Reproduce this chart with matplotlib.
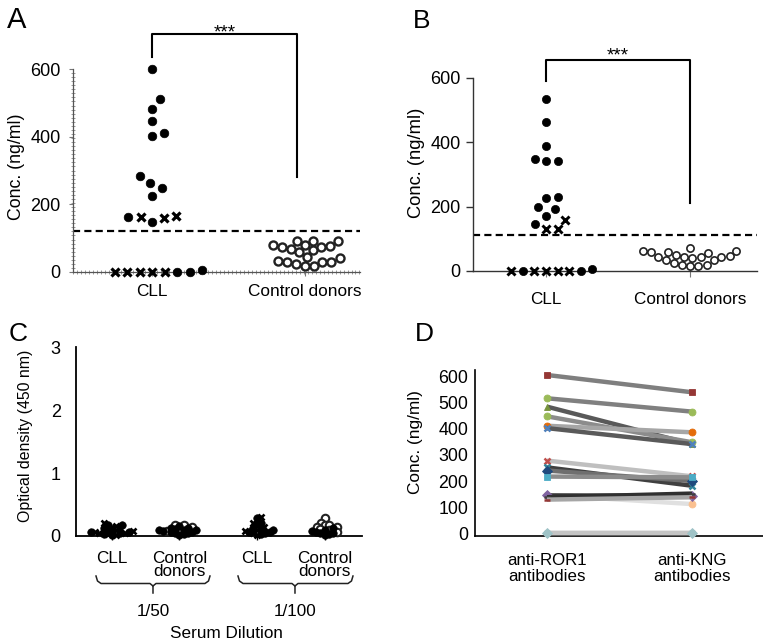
import numpy as np
import matplotlib
matplotlib.use('Agg')
import matplotlib.pyplot as plt
from matplotlib.ticker import FixedLocator

plt.rcParams['font.family'] = ['Liberation Sans', 'DejaVu Sans']

# ---------------- data ----------------
# Panel A
cll_a_vals = [600, 510, 482, 445, 402, 410, 285, 226, 249, 263,
              164, 159, 147, 164, 166, 0, 0, 0, 0, 0, 0, 0, 6]
cll_a_kind = ['o'] * 10 + ['o', 'x', 'o', 'x', 'x'] + ['x'] * 5 + ['o'] * 3
ctrl_a_vals = [80, 77, 73, 93, 93, 93, 65, 58, 67, 75, 81,
               45, 32, 29, 24, 19, 19, 30, 30, 40]
cutoff_a = 121

# Panel B
cll_b_vals = [534, 463, 388, 347, 342, 342, 229, 227, 198, 193, 172, 145,
              159, 131, 131, 0, 0, 0, 0, 0, 0, 0, 5]
cll_b_kind = ['o'] * 12 + ['x'] * 3 + ['x', 'o', 'x', 'x', 'x', 'x', 'o', 'o']
ctrl_b_vals = [63, 60, 55, 50, 73, 46, 44, 43, 45, 40, 35, 34, 25, 20,
               18, 17, 15, 62, 58, 45]
cutoff_b = 112

categories_ab = ['CLL', 'Control donors']

# Panel C
c_labels = ['CLL', 'Control\ndonors', 'CLL', 'Control\ndonors']
c_dilutions = ['1/50', '1/100']
cll50_vals = [0.20, 0.18, 0.17, 0.16, 0.15, 0.13, 0.12, 0.10, 0.09, 0.08,
              0.08, 0.07, 0.06, 0.06, 0.05, 0.05, 0.04, 0.03, 0.03, 0.02, 0.01]
cll50_kind = ['x', 'o', 'o', 'x', 'x', 'o', 'x', 'o', 'x', 'o',
              'x', 'o', 'x', 'o', 'x', 'o', 'x', 'o', 'x', 'o', 'x']
ctrl50_vals = [0.18, 0.17, 0.16, 0.15, 0.13, 0.12, 0.11, 0.10, 0.10, 0.09,
               0.09, 0.08, 0.08, 0.07, 0.06, 0.05, 0.04, 0.03, 0.02]
ctrl50_kind = ['c', 'c', 'o', 'c', 'o', 'o', 'o', 'o', 'c', 'o',
               'o', 'o', 'c', 'o', 'o', 'o', 'o', 'o', 'o']
cll100_vals = [0.30, 0.28, 0.20, 0.20, 0.19, 0.15, 0.12, 0.10, 0.10, 0.09,
               0.08, 0.07, 0.06, 0.05, 0.04, 0.03, 0.02]
cll100_kind = ['x', 'o', 'x', 'o', 'o', 'x', 'o', 'x', 'o', 'o',
               'x', 'o', 'o', 'x', 'o', 'o', 'x']
ctrl100_vals = [0.28, 0.20, 0.18, 0.17, 0.15, 0.14, 0.12, 0.11, 0.10, 0.09,
                0.08, 0.07, 0.06, 0.05, 0.04, 0.03, 0.02]
ctrl100_kind = ['c', 'c', 'c', 'c', 'c', 'c', 'o', 'c', 'o', 'c',
                'o', 'o', 'c', 'o', 'o', 'o', 'o']

# Panel D
d_labels = ['anti-ROR1\nantibodies', 'anti-KNG\nantibodies']
ror1_vals = [605, 516, 484, 447, 411, 402, 278, 252, 240, 217, 146, 145, 138, 129, 0, 0]
kng_vals = [539, 465, 341, 348, 386, 341, 218, 182, 200, 214, 112, 144, 152, 138, 0, 0]
d_line_colors = ['#7f7f7f', '#808080', '#595959', '#8c8c8c', '#a6a6a6', '#5a5a5a',
                 '#bfbfbf', '#404040', '#6f6f6f', '#8c8c8c', '#e0e0e0', '#3a3a3a',
                 '#303030', '#a6a6a6', '#bfbfbf', '#c4c4c4']
d_markers = ['s', 'o', '^', 'o', 'o', 'x', 'x', 'x', 'D', 's', 'o', 'D', '_', '_', 'o', 'D']
d_marker_colors = ['#953735', '#9bbb59', '#77933c', '#9bbb59', '#e46c0a', '#4f81bd',
                   '#c0504d', '#31859c', '#1f497d', '#4bacc6', '#fac090', '#8064a2',
                   '#404040', '#953735', '#93b8bd', '#9fc3c7']

# ---------------- helpers ----------------
W, H = 763, 644
fig = plt.figure(figsize=(W / 100, H / 100), dpi=100)


def add_ax(left, right, top_px, bottom_px):
    return fig.add_axes([left / W, 1 - bottom_px / H, (right - left) / W,
                         (bottom_px - top_px) / H])


def swarm(vals, sx, sy, d):
    vals = np.asarray(vals, float)
    ypx = vals * sy
    order = np.argsort(vals, kind='stable')
    px, py = [], []
    off = np.zeros(len(vals))
    for i in order:
        y = ypx[i]
        iv = []
        for a, b in zip(px, py):
            dy = abs(b - y)
            if dy < d:
                w = np.sqrt(d * d - dy * dy)
                iv.append((a - w, a + w))
        cands = sorted([0.0] + [a for a, b in iv] + [b for a, b in iv],
                       key=lambda c: (abs(c), -c))
        c = 0.0
        for c in cands:
            if all(not (a + 1e-6 < c < b - 1e-6) for a, b in iv):
                break
        off[i] = c
        px.append(c)
        py.append(y)
    rnd = np.round(ypx)
    for r in np.unique(rnd):
        idx = np.where(rnd == r)[0]
        if len(idx) > 1:
            off[idx] = np.sort(off[idx])
    return off / sx


def draw_points(ax, xc, vals, kinds, sx, sy, d, styles):
    off = swarm(vals, sx, sy, d)
    vals = np.asarray(vals, float)
    kinds = list(kinds)
    for k in ['c', 'o', 'x']:
        m = [i for i, kk in enumerate(kinds) if kk == k]
        if m:
            ax.plot(xc + off[m], vals[m], ls='none', clip_on=False, zorder=3, **styles[k])


def style_set(ms_o, ms_x, mew_x, ms_c, mew_c):
    return {
        'o': dict(marker='o', ms=ms_o, mfc='black', mec='black', mew=0.5),
        'x': dict(marker='x', ms=ms_x, mec='black', mew=mew_x),
        'c': dict(marker='o', ms=ms_c, mfc='white', mec='#222222', mew=mew_c),
    }


def letter(x, y, s, size):
    fig.text(x / W, 1 - y / H, s, fontsize=size, va='top', ha='left')


# ---------------- Panel A ----------------
sxA, syA = 153.0, 203.0 / 600
axA = add_ax(73, 360, 272 - 620 * syA, 272)
axA.set_xlim(-(152 - 73) / sxA, 1 + (360 - 305) / sxA)
axA.set_ylim(0, 620)
stA = style_set(6.2, 5.6, 2.3, 5.8, 1.7)
draw_points(axA, 0, cll_a_vals, cll_a_kind, sxA, syA, 12.5, stA)
draw_points(axA, 1, ctrl_a_vals, ['c'] * len(ctrl_a_vals), sxA, syA, 9.0, stA)
axA.axhline(cutoff_a, color='black', lw=1.6, ls=(0, (3.2, 1.9)), zorder=2)
for s in ['top', 'right']:
    axA.spines[s].set_visible(False)
for s in ['left', 'bottom']:
    axA.spines[s].set_color('#555555')
    axA.spines[s].set_linewidth(0.9)
axA.spines['left'].set_bounds(0, 600)
axA.set_yticks([0, 200, 400, 600])
axA.set_xticks([0, 1])
axA.set_xticklabels(categories_ab)
axA.yaxis.set_minor_locator(FixedLocator(np.arange(0, 601, 12)))
axA.xaxis.set_minor_locator(FixedLocator(np.arange(-0.516, 1.36, 0.026)))
axA.tick_params(which='minor', direction='inout', length=2.4, width=0.6, color='#888888')
axA.tick_params(axis='y', which='major', direction='out', length=3, width=0.8,
                color='#777777', labelsize=13, pad=6)
axA.tick_params(axis='x', which='major', direction='out', length=3, width=0.8,
                color='#777777', labelsize=12.4, pad=6)
axA.set_ylabel('Conc. (ng/ml)', fontsize=12.8)
axA.yaxis.set_label_coords(-0.167, 0.5)
axA.plot([0, 0, 0.95, 0.95], [636, 703, 703, 281], color='black', lw=1.5, clip_on=False)
axA.text(0.475, 692, '***', ha='center', va='baseline', fontsize=13.5, clip_on=False)
letter(7, 6, 'A', 21)

# ---------------- Panel B ----------------
sxB, syB = 144.0, 193.0 / 600
axB = add_ax(473, 757, 271 - 620 * syB, 271)
axB.set_xlim(-(546 - 473) / sxB, 1 + (757 - 690) / sxB)
axB.set_ylim(0, 620)
stB = style_set(5.9, 5.4, 2.1, 5.2, 1.2)
draw_points(axB, 0, cll_b_vals, cll_b_kind, sxB, syB, 11.6, stB)
draw_points(axB, 1, ctrl_b_vals, ['c'] * len(ctrl_b_vals), sxB, syB, 8.4, stB)
axB.axhline(cutoff_b, color='black', lw=1.6, ls=(0, (3.2, 1.9)), zorder=2)
for s in ['top', 'right']:
    axB.spines[s].set_visible(False)
for s in ['left', 'bottom']:
    axB.spines[s].set_color('#333333')
    axB.spines[s].set_linewidth(1.0)
axB.spines['left'].set_bounds(0, 600)
axB.set_yticks([0, 200, 400, 600])
axB.set_xticks([0, 1])
axB.set_xticklabels(categories_ab)
axB.tick_params(axis='y', direction='out', length=5, width=1, color='#333333',
                labelsize=13, pad=4)
axB.tick_params(axis='x', direction='out', length=4, width=0.8, color='#777777',
                labelsize=12.3, pad=11)
axB.set_ylabel('Conc. (ng/ml)', fontsize=13.2)
axB.yaxis.set_label_coords(-0.169, 0.54)
axB.plot([0, 0, 1, 1], [590, 656, 656, 211], color='black', lw=1.5, clip_on=False)
axB.text(0.5, 656, '***', ha='center', va='baseline', fontsize=13.5, clip_on=False)
letter(413, 9, 'B', 19)

# ---------------- Panel C ----------------
sxC, syC = 67.5, 188.0 / 3
axC = add_ax(76, 362, 536 - 3.02 * syC, 536)
axC.set_xlim(-(112 - 76) / sxC, 3.15 + (362 - 324.6) / sxC)
axC.set_ylim(0, 3.02)
c_pos = [0, 1, 2.15, 3.15]
stC = style_set(5.4, 4.8, 1.9, 5.4, 1.5)
draw_points(axC, c_pos[0], cll50_vals, cll50_kind, sxC, syC, 4.3, stC)
draw_points(axC, c_pos[1], ctrl50_vals, ctrl50_kind, sxC, syC, 4.3, stC)
draw_points(axC, c_pos[2], cll100_vals, cll100_kind, sxC, syC, 4.3, stC)
draw_points(axC, c_pos[3], ctrl100_vals, ctrl100_kind, sxC, syC, 4.3, stC)
for s in ['top', 'right']:
    axC.spines[s].set_visible(False)
for s in ['left', 'bottom']:
    axC.spines[s].set_color('black')
    axC.spines[s].set_linewidth(1.3)
axC.set_yticks([0, 1, 2, 3])
axC.set_xticks(c_pos)
axC.set_xticklabels(c_labels, linespacing=0.85)
axC.tick_params(axis='y', length=0, labelsize=13, pad=11)
axC.tick_params(axis='x', direction='out', length=3, width=1, labelsize=12.3, pad=8)
axC.set_ylabel('Optical density (450 nm)', fontsize=11.4)
axC.yaxis.set_label_coords(-0.150, 0.53)


def cpx(px, py):
    return (px - 112) / sxC, (536 - py) / syC


for left, right, mid, lab in [(96, 210, 153, c_dilutions[0]), (238, 353, 295, c_dilutions[1])]:
    pts = [cpx(left, 576), cpx(left + 1.5, 581), cpx(left + 5, 583.5), cpx(mid - 3, 583.5),
           cpx(mid, 586), cpx(mid, 593)]
    pts2 = [cpx(right, 576), cpx(right - 1.5, 581), cpx(right - 5, 583.5), cpx(mid + 3, 583.5),
            cpx(mid, 586)]
    for p in (pts, pts2):
        xs, ys = zip(*p)
        axC.plot(xs, ys, color='#222222', lw=1.1, clip_on=False)
    tx, ty = cpx(mid, 611)
    axC.text(tx, ty, lab, ha='center', va='center', fontsize=12.3, clip_on=False)
tx, ty = cpx(226, 634)
axC.text(tx, ty, 'Serum Dilution', ha='center', va='center', fontsize=12.3, clip_on=False)
letter(9, 322, 'C', 19)

# ---------------- Panel D ----------------
sxD, syD = 145.0, 157.0 / 600
axD = add_ax(475, 763, 370, 536)
axD.set_xlim(-(547 - 475) / sxD, 1 + (763 - 692) / sxD)
axD.set_ylim(-10, 624)
for i in range(len(ror1_vals)):
    mk = d_markers[i]
    mew = 1.8 if mk in ('x', '_') else 0.6
    axD.plot([0, 1], [ror1_vals[i], kng_vals[i]], color=d_line_colors[i], lw=3.2,
             solid_capstyle='butt', marker=mk, ms=5.0, mfc=d_marker_colors[i],
             mec=d_marker_colors[i], mew=mew, clip_on=False, zorder=3)
for s in ['top', 'right']:
    axD.spines[s].set_visible(False)
for s in ['left', 'bottom']:
    axD.spines[s].set_color('black')
    axD.spines[s].set_linewidth(1.2)
axD.set_yticks([0, 100, 200, 300, 400, 500, 600])
axD.set_xticks([0, 1])
axD.set_xticklabels(d_labels, linespacing=1.15)
axD.tick_params(axis='y', length=0, labelsize=12.8, pad=5)
axD.tick_params(axis='x', length=0, labelsize=12.2, pad=12)
axD.set_ylabel('Conc. (ng/ml)', fontsize=12.4)
axD.yaxis.set_label_coords(-0.181, 0.566)
letter(415, 322, 'D', 19)

fig.savefig('out.png', dpi=100)
